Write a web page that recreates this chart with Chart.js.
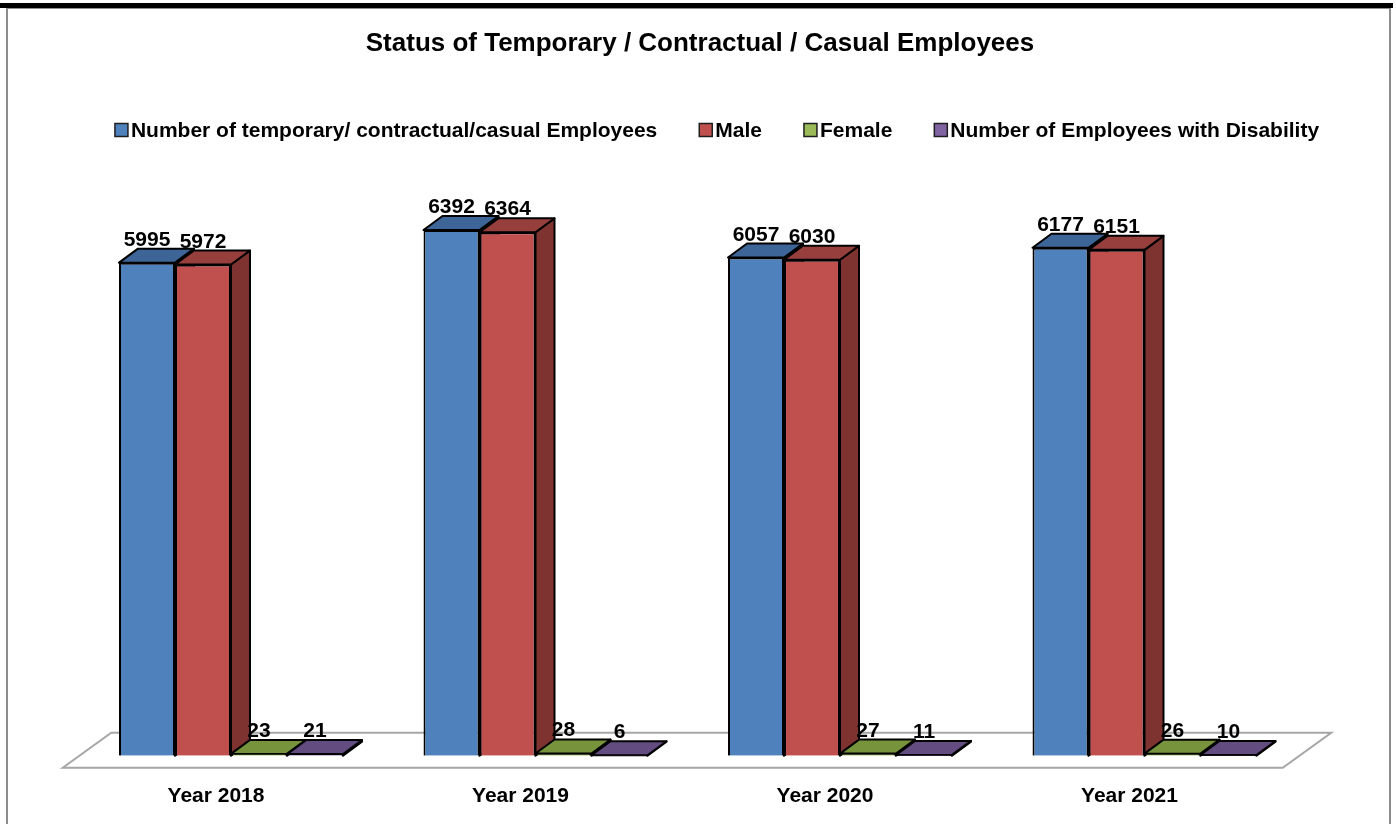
<!DOCTYPE html>
<html>
<head>
<meta charset="utf-8">
<script src="https://cdn.jsdelivr.net/npm/chart.js@4.4.1/dist/chart.umd.min.js"></script>
<style>
  html, body { margin: 0; padding: 0; background: #fff; overflow: hidden; }
  #wrap { width: 1396px; height: 824px; position: relative; }
</style>
</head>
<body>
<div id="wrap"><canvas id="staffChart"></canvas></div>
<script>
// chart data
const chartTitle = 'Status of Temporary / Contractual / Casual Employees';
const years = ['Year 2018', 'Year 2019', 'Year 2020', 'Year 2021'];
const seriesNames = [
    'Number of temporary/ contractual/casual Employees',
    'Male',
    'Female',
    'Number of Employees with Disability'
];
const totalEmployees = [5995, 6392, 6057, 6177];
const maleEmployees = [5972, 6364, 6030, 6151];
const femaleEmployees = [23, 28, 27, 26];
const disabledEmployees = [21, 6, 11, 10];

// front / top / side colours per series
const frontColors = ['#4F81BD', '#C0504D', '#9BBB59', '#8064A2'];
const topColors = ['#3E6597', '#973F3D', '#77933C', '#634C80'];
const sideColors = ['#38598A', '#7E3331', '#5F7730', '#503E68'];

const DEPTH_X = 19;
const DEPTH_Y = -14;
const FONT = '"Liberation Sans", Arial, sans-serif';

// page frame + floor, drawn before the bars
const backdropPlugin = {
    id: 'backdrop',
    beforeDraw(chart) {
        const ctx = chart.ctx;
        ctx.save();
        ctx.fillStyle = '#fff';
        ctx.fillRect(0, 0, chart.width, chart.height);
        ctx.strokeStyle = '#8C8C8C';
        ctx.lineWidth = 2;
        ctx.strokeRect(7, 8, 1383, 840);
        ctx.fillStyle = '#000';
        ctx.fillRect(0, 3, 1393, 5);
        // title
        ctx.font = 'bold 26px ' + FONT;
        ctx.textAlign = 'center';
        ctx.textBaseline = 'middle';
        ctx.fillText(chartTitle, 700, 44);
        ctx.restore();
    },
    beforeDatasetsDraw(chart) {
        const ctx = chart.ctx;
        const a = chart.chartArea;
        const fy = a.bottom + 12;
        const fl = a.left - 16, fr = a.right - 14;
        ctx.save();
        ctx.beginPath();
        ctx.moveTo(fl, fy);
        ctx.lineTo(fl + 48.5, fy - 35);
        ctx.lineTo(fr + 48.5, fy - 35);
        ctx.lineTo(fr, fy);
        ctx.closePath();
        ctx.fillStyle = '#fff';
        ctx.fill();
        ctx.strokeStyle = '#A6A6A6';
        ctx.lineWidth = 2;
        ctx.stroke();

        // side and top faces of each bar, left to right; fronts come after
        const metas = chart.data.datasets.map((d, i) => chart.getDatasetMeta(i));
        ctx.lineWidth = 2;
        ctx.strokeStyle = '#000';
        ctx.lineJoin = 'round';
        for (let c = 0; c < years.length; c++) {
            metas.forEach((meta, s) => {
                const bar = meta.data[c];
                const x1 = bar.x - bar.width / 2, x2 = bar.x + bar.width / 2;
                const top = bar.y, base = bar.base;
                ctx.beginPath();
                ctx.moveTo(x2, top);
                ctx.lineTo(x2 + DEPTH_X, top + DEPTH_Y);
                ctx.lineTo(x2 + DEPTH_X, base + DEPTH_Y);
                ctx.lineTo(x2, base);
                ctx.closePath();
                ctx.fillStyle = sideColors[s];
                ctx.fill();
                ctx.stroke();
                ctx.beginPath();
                ctx.moveTo(x1, top);
                ctx.lineTo(x1 + DEPTH_X, top + DEPTH_Y);
                ctx.lineTo(x2 + DEPTH_X, top + DEPTH_Y);
                ctx.lineTo(x2, top);
                ctx.closePath();
                ctx.fillStyle = topColors[s];
                ctx.fill();
                ctx.stroke();
            });
        }
        ctx.restore();
    },
    afterDatasetsDraw(chart) {
        const ctx = chart.ctx;
        ctx.save();
        ctx.font = 'bold 21px ' + FONT;
        ctx.fillStyle = '#000';
        ctx.textAlign = 'center';
        ctx.textBaseline = 'alphabetic';
        chart.data.datasets.forEach((ds, s) => {
            chart.getDatasetMeta(s).data.forEach((bar, c) => {
                ctx.fillText(String(ds.data[c]), bar.x, bar.y + DEPTH_Y - 3);
            });
        });
        ctx.restore();
    },
    afterDraw(chart) {
        // legend row, tight boxes like the original
        const ctx = chart.ctx;
        ctx.save();
        ctx.font = 'bold 21px ' + FONT;
        const box = 13, gapText = 3, gapItem = 42;
        const widths = seriesNames.map(n => ctx.measureText(n).width);
        const total = widths.reduce((t, w) => t + box + gapText + w, 0) + gapItem * (seriesNames.length - 1);
        let x = 717 - total / 2;
        const cy = 130;
        ctx.textBaseline = 'middle';
        ctx.textAlign = 'left';
        seriesNames.forEach((n, i) => {
            ctx.fillStyle = frontColors[i];
            ctx.fillRect(x, cy - box / 2, box, box);
            ctx.strokeStyle = '#1F1F1F';
            ctx.lineWidth = 1.5;
            ctx.strokeRect(x, cy - box / 2, box, box);
            ctx.fillStyle = '#000';
            ctx.fillText(n, x + box + gapText, cy + 1);
            x += box + gapText + widths[i] + gapItem;
        });
        ctx.restore();
    }
};

const seriesValues = [totalEmployees, maleEmployees, femaleEmployees, disabledEmployees];

new Chart(document.getElementById('staffChart').getContext('2d'), {
    type: 'bar',
    data: {
        labels: years,
        datasets: seriesValues.map((vals, i) => ({
            label: seriesNames[i],
            data: vals,
            backgroundColor: frontColors[i],
            borderColor: '#000',
            borderWidth: 2,
            categoryPercentage: 0.7356,
            barPercentage: 1
        }))
    },
    options: {
        responsive: true,
        maintainAspectRatio: false,
        animation: false,
        layout: { padding: { left: 78.75, right: 99.25, top: 180, bottom: -13 } },
        scales: {
            x: {
                grid: { display: false, drawTicks: false },
                border: { display: false },
                ticks: {
                    font: { family: FONT, size: 21, weight: 'bold' },
                    color: '#000',
                    padding: 28,
                    labelOffset: -15,
                    maxRotation: 0,
                    autoSkip: false
                }
            },
            y: {
                display: false,
                min: 0,
                max: 7000
            }
        },
        plugins: {
            legend: { display: false },
            tooltip: { enabled: false },
            title: { display: false }
        }
    },
    plugins: [backdropPlugin]
});
</script>
</body>
</html>
